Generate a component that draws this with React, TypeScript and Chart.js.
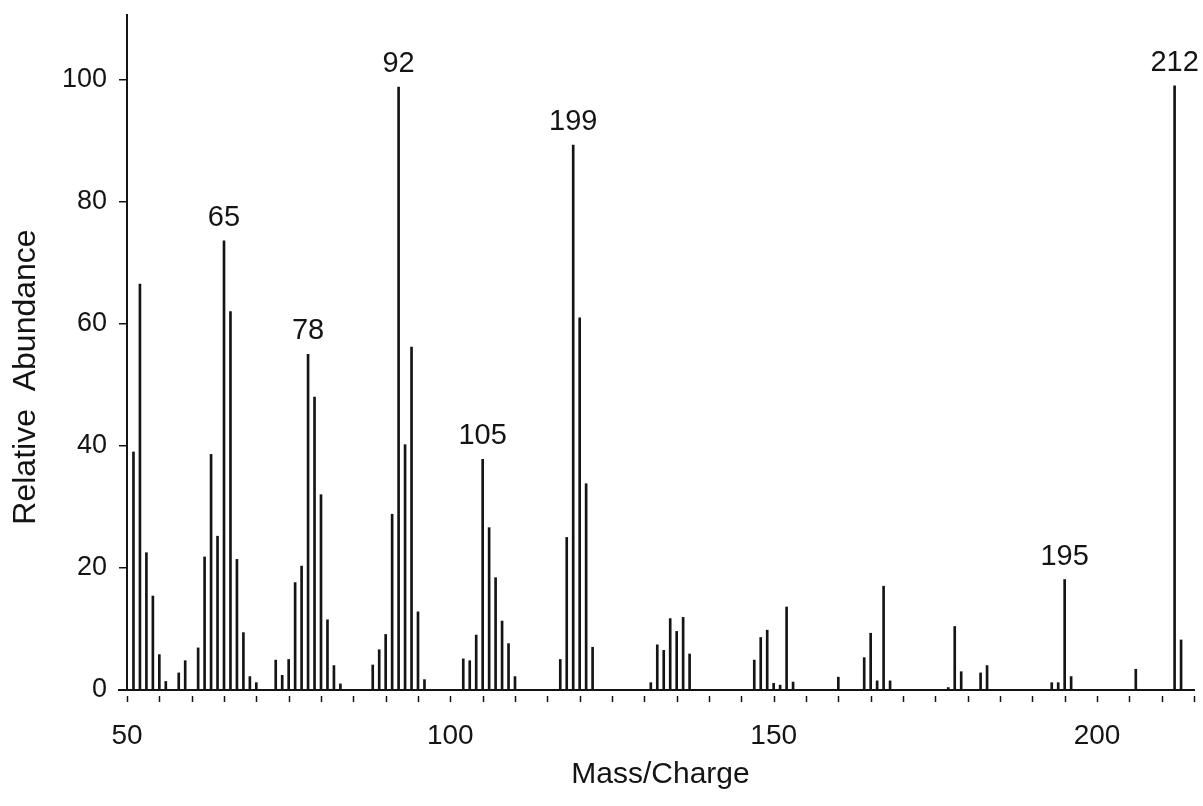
import React, { useEffect, useRef } from "react";
import { Chart, registerables } from "chart.js";

Chart.register(...registerables);

const masses = [
  51, 52, 53, 54, 55, 56, 58, 59, 61, 62, 63, 64, 65, 66, 67, 68, 69, 70,
  73, 74, 75, 76, 77, 78, 79, 80, 81, 82, 83, 88, 89, 90, 91, 92, 93, 94, 95, 96,
  102, 103, 104, 105, 106, 107, 108, 109, 110, 117, 118, 119, 120, 121, 122,
  131, 132, 133, 134, 135, 136, 137, 147, 148, 149, 150, 151, 152, 153, 160,
  164, 165, 166, 167, 168, 177, 178, 179, 182, 183, 193, 194, 195, 196, 206,
  212, 213,
];

const abundances = [
  39, 66.5, 22.5, 15.4, 5.8, 1.4, 2.8, 4.8, 6.9, 21.8, 38.6, 25.2, 73.6, 62, 21.4, 9.4, 2.2, 1.2,
  4.9, 2.4, 5, 17.6, 20.3, 55, 48, 32, 11.5, 4, 1, 4.1, 6.6, 9.1, 28.8, 98.8, 40.2, 56.2, 12.8, 1.7,
  5.1, 4.8, 9, 37.8, 26.6, 18.4, 11.3, 7.6, 2.2, 5, 25, 89.3, 61, 33.8, 7,
  1.2, 7.4, 6.5, 11.7, 9.6, 11.9, 5.9, 4.9, 8.6, 9.8, 1.1, 0.8, 13.6, 1.3, 2.1,
  5.3, 9.3, 1.5, 17, 1.5, 0.4, 10.4, 3, 2.8, 4, 1.2, 1.2, 18.1, 2.2, 3.4,
  99, 8.2,
];

const peakMasses = [65, 78, 92, 105, 119, 195, 212];
const peakTexts = ["65", "78", "92", "105", "199", "195", "212"];

const xMajorTicks = [50, 100, 150, 200];
const yTickValues = [0, 20, 40, 60, 80, 100];

const xTitle = "Mass/Charge";
const yTitle = "Relative  Abundance";

const FONT = "'Liberation Sans', Arial, Helvetica, sans-serif";
const INK = "#141414";

export default function App() {
  const ref = useRef<HTMLCanvasElement | null>(null);

  useEffect(() => {
    if (!ref.current) return;
    const decorPlugin = {
      id: "decor",
      afterDraw(chart: any) {
        const { ctx, scales, chartArea } = chart;
        const xs = scales.x;
        const ys = scales.y;
        ctx.save();
        // small detached x tick marks under the baseline
        ctx.strokeStyle = INK;
        ctx.lineWidth = 1.5;
        xs.ticks.forEach((t: any) => {
          const px = Math.round(xs.getPixelForValue(t.value)) + 0.5;
          ctx.beginPath();
          ctx.moveTo(px, chartArea.bottom + 6);
          ctx.lineTo(px, chartArea.bottom + 12);
          ctx.stroke();
        });
        // baseline extends slightly left of the y axis
        ctx.lineWidth = 2;
        ctx.beginPath();
        ctx.moveTo(chartArea.left - 9, chartArea.bottom);
        ctx.lineTo(chartArea.left, chartArea.bottom);
        ctx.stroke();
        // peak labels
        ctx.font = `29px ${FONT}`;
        ctx.fillStyle = INK;
        ctx.textAlign = "center";
        ctx.textBaseline = "alphabetic";
        peakMasses.forEach((m, i) => {
          const idx = masses.indexOf(m);
          const px = xs.getPixelForValue(m);
          const py = ys.getPixelForValue(abundances[idx]);
          ctx.fillText(peakTexts[i], px, py - 15);
        });
        // y axis title
        ctx.font = `32px ${FONT}`;
        ctx.textBaseline = "middle";
        ctx.translate(26, 377);
        ctx.rotate(-Math.PI / 2);
        ctx.fillText(yTitle, 0, 0);
        ctx.restore();
      },
    };

    const chart = new Chart(ref.current, {
      type: "bar",
      data: {
        datasets: [
          {
            data: masses.map((m, i) => ({ x: m, y: abundances[i] })),
            backgroundColor: INK,
            borderWidth: 0,
            barThickness: 2,
          },
        ],
      },
      options: {
        animation: false,
        responsive: false,
        layout: { padding: 0 },
        plugins: { legend: { display: false }, tooltip: { enabled: false } },
        scales: {
          x: {
            type: "linear",
            min: 50,
            max: 215,
            offset: false,
            afterFit(s: any) {
              s.height = 116;
              s.paddingRight = 9;
              s.paddingLeft = 0;
            },
            ticks: {
              stepSize: 5,
              autoSkip: false,
              maxRotation: 0,
              minRotation: 0,
              padding: 29,
              color: INK,
              font: { family: FONT, size: 28 },
              callback: (v: any) => (xMajorTicks.includes(Number(v)) ? String(v) : ""),
            },
            grid: { drawOnChartArea: false, drawTicks: false, offset: false },
            border: { color: INK, width: 2 },
            title: {
              display: true,
              text: xTitle,
              color: INK,
              font: { family: FONT, size: 30 },
              padding: { top: 0, bottom: 13 },
            },
          },
          y: {
            type: "linear",
            min: 0,
            max: 110.6,
            afterFit(s: any) {
              s.width = 127;
              s.paddingTop = 15;
              s.paddingBottom = 0;
            },
            afterBuildTicks(s: any) {
              s.ticks = s.ticks.filter((t: any) => yTickValues.includes(t.value));
            },
            ticks: {
              stepSize: 20,
              padding: 12,
              color: INK,
              font: { family: FONT, size: 27 },
            },
            grid: { drawOnChartArea: false, tickLength: 8, color: INK, lineWidth: 1.5 },
            border: { color: INK, width: 2 },
            title: { display: false },
          },
        },
      },
      plugins: [decorPlugin],
    } as any);

    return () => chart.destroy();
  }, []);

  return (
    <div style={{ position: "absolute", left: 0, top: 0, width: 1203, height: 806, background: "#fff" }}>
      <canvas ref={ref} width={1203} height={806} style={{ display: "block" }} />
    </div>
  );
}
